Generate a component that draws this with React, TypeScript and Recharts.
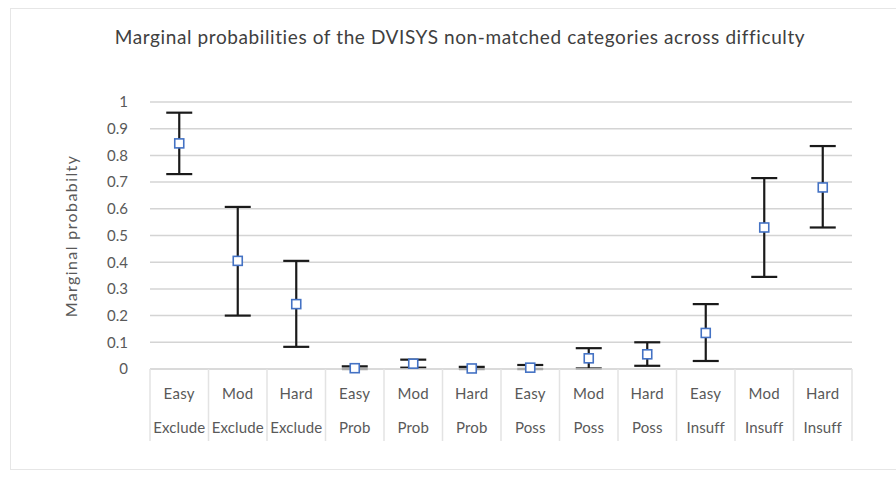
import { ComposedChart, Line, ErrorBar, XAxis, YAxis, CartesianGrid } from 'recharts';

const difficulty = ['Easy', 'Mod', 'Hard', 'Easy', 'Mod', 'Hard', 'Easy', 'Mod', 'Hard', 'Easy', 'Mod', 'Hard'];
const category = ['Exclude', 'Exclude', 'Exclude', 'Prob', 'Prob', 'Prob', 'Poss', 'Poss', 'Poss', 'Insuff', 'Insuff', 'Insuff'];
const means = [0.845, 0.405, 0.243, 0.003, 0.02, 0.002, 0.005, 0.04, 0.055, 0.135, 0.53, 0.68];
const lowers = [0.73, 0.2, 0.083, 0.0, 0.005, 0.0, 0.0, 0.002, 0.012, 0.03, 0.345, 0.53];
const uppers = [0.96, 0.607, 0.405, 0.01, 0.035, 0.008, 0.015, 0.078, 0.1, 0.243, 0.715, 0.835];
const yTicks = [0, 0.1, 0.2, 0.3, 0.4, 0.5, 0.6, 0.7, 0.8, 0.9, 1];

const data = means.map((m, i) => ({
  key: String(i),
  mean: m,
  err: [m - lowers[i], uppers[i] - m],
}));

const FONT = 'Lato, "Open Sans", sans-serif';

function CategoryTick(props: any) {
  const { x, y, payload } = props;
  const i = Number(payload.value);
  const half = 29.25;
  return (
    <g>
      <line x1={x - half} x2={x - half} y1={y} y2={y + 72} stroke="#e3e3e3" strokeWidth={1.5} />
      {i === difficulty.length - 1 && (
        <line x1={x + half} x2={x + half} y1={y} y2={y + 72} stroke="#e3e3e3" strokeWidth={1.5} />
      )}
      <text x={x} y={y + 30} textAnchor="middle" fontSize={15} fill="#595959" fontFamily={FONT} letterSpacing={0.3}>
        {difficulty[i]}
      </text>
      <text x={x} y={y + 64} textAnchor="middle" fontSize={15} fill="#595959" fontFamily={FONT} letterSpacing={0.1}>
        {category[i]}
      </text>
    </g>
  );
}

function SquareDot(props: any) {
  const { cx, cy } = props;
  if (cx == null || cy == null) return null;
  return <rect x={cx - 4.5} y={cy - 4.5} width={9} height={9} fill="#ffffff" stroke="#4472c4" strokeWidth={1.6} />;
}

export default function App() {
  return (
    <div style={{ position: 'fixed', left: 0, top: 0, width: 896, height: 483, background: '#fff' }}>
      <div
        style={{
          position: 'absolute',
          left: 10,
          top: 8,
          width: 900,
          height: 462,
          border: '1px solid #e6e6e6',
          boxSizing: 'border-box',
        }}
      />
      <div
        style={{
          position: 'absolute',
          left: 0,
          top: 25,
          width: 920,
          textAlign: 'center',
          fontFamily: FONT,
          fontSize: 19,
          letterSpacing: 0.6,
          color: '#404040',
        }}
      >
        Marginal probabilities of the DVISYS non-matched categories across difficulty
      </div>
      <div
        style={{
          position: 'absolute',
          left: 70,
          top: 236,
          transform: 'translate(-50%, -50%) rotate(-90deg)',
          whiteSpace: 'nowrap',
          fontFamily: FONT,
          fontSize: 16,
          letterSpacing: 1.4,
          color: '#595959',
        }}
      >
        Marginal probabilty
      </div>
      <ComposedChart
        width={896}
        height={483}
        data={data}
        margin={{ top: 102, right: 44, bottom: 39, left: 90 }}
      >
        <CartesianGrid vertical={false} stroke="#d4d4d4" strokeWidth={1.5} />
        <XAxis
          dataKey="key"
          scale="band"
          height={75}
          interval={0}
          tickLine={false}
          tickSize={0}
          tickMargin={0}
          axisLine={{ stroke: '#d9d9d9', strokeWidth: 1.5 }}
          tick={<CategoryTick />}
        />
        <YAxis
          width={60}
          domain={[0, 1]}
          ticks={yTicks}
          axisLine={false}
          tickLine={false}
          tickMargin={16}
          tick={{ fontSize: 15, fill: '#595959', fontFamily: FONT }}
        />
        <Line
          dataKey="mean"
          stroke="none"
          isAnimationActive={false}
          dot={<SquareDot />}
          activeDot={false}
        >
          <ErrorBar dataKey="err" width={13} stroke="#1a1a1a" strokeWidth={2.2} direction="y" />
        </Line>
      </ComposedChart>
    </div>
  );
}
